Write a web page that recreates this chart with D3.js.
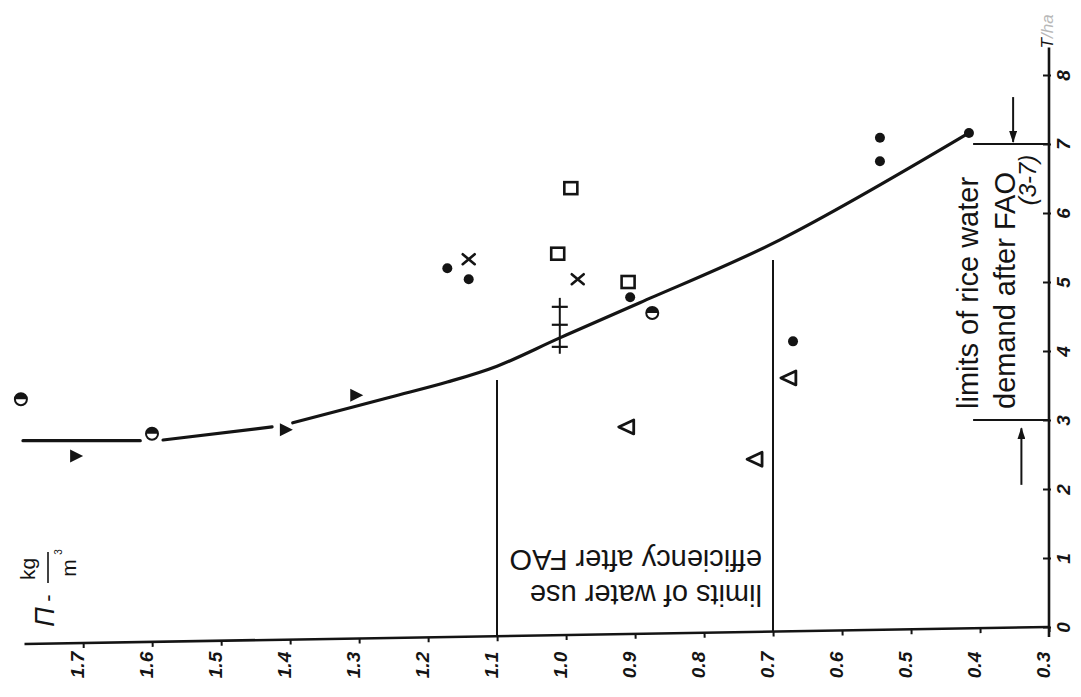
<!DOCTYPE html>
<html>
<head>
<meta charset="utf-8">
<script src="https://cdn.jsdelivr.net/npm/d3@7"></script>
<style>
  body { margin: 0; background: #fff; }
  svg { display: block; }
</style>
</head>
<body>
<svg id="chart" width="1081" height="697"></svg>
<script>
// Rice: water-use efficiency (kg/m3, horizontal) against yield (vertical, right-hand axis)
const effTicks = [1.7, 1.6, 1.5, 1.4, 1.3, 1.2, 1.1, 1.0, 0.9, 0.8, 0.7, 0.6, 0.5, 0.4, 0.3];
const effTickLabels = ["1.7", "1.6", "1.5", "1.4", "1.3", "1.2", "1.1", "1.0", "0.9", "0.8", "0.7", "0.6", "0.5", "0.4", "0.3"];
const yieldTicks = [0, 1, 2, 3, 4, 5, 6, 7, 8];
const yieldTickLabels = ["0", "1", "2", "3", "4", "5", "6", "7", "8"];
const effAxisStart = 1.785;
const yieldAxisEnd = 8.4;

// hand-fitted curve; null marks a break in the drawn line
const curveEff   = [1.787, 1.617, null, 1.584, 1.426, null, 1.396, 1.255, 1.172, 1.100, 1.009, 0.893, 0.690, 0.416];
const curveYield = [2.70,  2.70,  null, 2.71,  2.90,  null, 2.96,  3.33,  3.55,  3.78,  4.19,  4.70,  5.61,  7.16];

// observations, one pair of arrays per symbol
const dotEff   = [1.172, 1.141, 0.907, 0.671, 0.545, 0.545, 0.416];
const dotYield = [5.20,  5.04,  4.78,  4.14,  7.09,  6.75,  7.16];
const halfEff   = [1.79, 1.60, 0.875];
const halfYield = [3.30, 2.80, 4.55];
const solidTriEff   = [1.71, 1.406, 1.304];
const solidTriYield = [2.48, 2.86,  3.36];
const openTriEff   = [0.912, 0.726, 0.677];
const openTriYield = [2.90,  2.43,  3.61];
const squareEff   = [1.012, 0.993, 0.910];
const squareYield = [5.41,  6.36,  5.00];
const crossEff   = [1.141, 0.983];
const crossYield = [5.33,  5.04];
const plusEff   = [1.009, 1.009, 1.009];
const plusYield = [4.64,  4.38,  4.06];

// FAO limits
const effLimits = [1.1, 0.7];
const effLimitTop = [3.58, 5.32];
const yieldLimits = [3, 7];
const yieldLimitFrom = 0.41;
const arrowEff  = [0.352, 0.340];
const arrowFrom = [7.68, 2.06];
const arrowTo   = [7.03, 2.88];

const ink = "#141414";
const sans = "'Liberation Sans', Arial, sans-serif";
const svg = d3.select("#chart");
const x = d3.scaleLinear().domain([1.7, 0.3]).range([83, 1049]);
const y = d3.scaleLinear().domain([0, 8]).range([627, 75]);
const tiltDeg = -0.95;                       // the baseline is drawn slightly askew
const tiltSlope = Math.tan(-tiltDeg * Math.PI / 180);
const baseY = px => y(0) + tiltSlope * (x(0.3) - px);

const defs = svg.append("defs");
defs.append("marker")
  .attr("id", "head").attr("viewBox", "0 0 12 8").attr("refX", 11).attr("refY", 4)
  .attr("markerWidth", 12).attr("markerHeight", 8).attr("markerUnits", "userSpaceOnUse")
  .attr("orient", "auto")
  .append("path").attr("d", "M0,0 L12,4 L0,8 Z").attr("fill", ink);

// ---- horizontal axis (efficiency) ----
const gx = svg.append("g")
  .attr("transform", `translate(0,${y(0)}) rotate(${tiltDeg},${x(0.3)},0)`);
gx.call(d3.axisBottom(x).tickValues(effTicks).tickSize(5).tickFormat(""));
gx.select(".domain").remove();
gx.append("line")
  .attr("x1", x(effAxisStart)).attr("x2", x(0.3)).attr("y1", 0).attr("y2", 0)
  .attr("stroke", ink).attr("stroke-width", 2.6);
gx.selectAll(".tick line").attr("stroke", ink).attr("stroke-width", 2);

// tick labels sit on a level line below the askew baseline
svg.append("g").selectAll("text").data(effTicks).join("text")
  .attr("transform", d => `translate(${x(d) - 6},665) rotate(-90)`)
  .attr("dy", "0.35em").attr("text-anchor", "middle").attr("fill", ink)
  .style("font-family", sans).style("font-style", "italic")
  .style("font-weight", "bold").style("font-size", "19px")
  .text((d, i) => effTickLabels[i]);

// ---- right-hand axis (yield) ----
const gy = svg.append("g").attr("transform", `translate(${x(0.3)},0)`);
gy.call(d3.axisRight(y).tickValues(yieldTicks).tickSizeInner(-6).tickSizeOuter(0)
  .tickFormat((d, i) => yieldTickLabels[i]));
gy.select(".domain").remove();
gy.append("line")
  .attr("x1", 0).attr("x2", 0).attr("y1", y(0) + 10).attr("y2", y(yieldAxisEnd))
  .attr("stroke", ink).attr("stroke-width", 2.6);
gy.selectAll(".tick line").attr("x1", 2).attr("stroke", ink).attr("stroke-width", 2);
gy.selectAll(".tick text")
  .attr("x", 0).attr("y", 0).attr("dy", "0.35em")
  .attr("transform", "translate(14,0) rotate(-90)")
  .attr("text-anchor", "middle")
  .attr("fill", ink)
  .style("font-family", sans)
  .style("font-style", "italic").style("font-weight", "bold").style("font-size", "19px");

// axis title at the top of the yield axis
const tTitle = svg.append("text")
  .attr("transform", `translate(${x(0.3) - 2},${y(yieldAxisEnd) - 16}) rotate(-90)`)
  .attr("text-anchor", "middle").attr("dy", "0.35em")
  .style("font-family", sans)
  .style("font-style", "italic").style("font-size", "17px");
tTitle.append("tspan").attr("fill", ink).text("T");
tTitle.append("tspan").attr("fill", "#b8b8b8").text("/ha");

// efficiency title: Π - kg/m³
const lab = svg.append("g").attr("transform", "translate(48,600) rotate(-90)")
  .style("font-family", sans).attr("fill", ink);
lab.append("text").attr("x", -17).attr("y", -3).attr("dy", "0.35em").attr("text-anchor", "middle")
  .style("font-style", "italic").style("font-size", "27px").text("Π");
lab.append("text").attr("x", 2).attr("y", -1).attr("dy", "0.35em").attr("text-anchor", "middle")
  .style("font-size", "22px").text("-");
lab.append("line").attr("x1", 17).attr("x2", 48).attr("y1", 0).attr("y2", 0)
  .attr("stroke", ink).attr("stroke-width", 1.6);
lab.append("text").attr("x", 31).attr("y", -20).attr("dy", "0.35em").attr("text-anchor", "middle")
  .style("font-size", "21px").text("kg");
lab.append("text").attr("x", 32).attr("y", 21).attr("dy", "0.35em").attr("text-anchor", "middle")
  .style("font-size", "21px").text("m");
lab.append("text").attr("x", 48).attr("y", 10).attr("dy", "0.35em").attr("text-anchor", "middle")
  .style("font-size", "10px").text("3");

// ---- FAO limit lines ----
svg.selectAll(".eff-limit").data(effLimits).join("line")
  .attr("class", "eff-limit")
  .attr("x1", d => x(d)).attr("x2", d => x(d))
  .attr("y1", d => baseY(x(d))).attr("y2", (d, i) => y(effLimitTop[i]))
  .attr("stroke", ink).attr("stroke-width", 2);

svg.selectAll(".yield-limit").data(yieldLimits).join("line")
  .attr("class", "yield-limit")
  .attr("x1", x(yieldLimitFrom)).attr("x2", x(0.3))
  .attr("y1", d => y(d)).attr("y2", d => y(d))
  .attr("stroke", ink).attr("stroke-width", 2);

svg.selectAll(".limit-arrow").data(arrowEff).join("line")
  .attr("class", "limit-arrow")
  .attr("x1", d => x(d)).attr("x2", d => x(d))
  .attr("y1", (d, i) => y(arrowFrom[i])).attr("y2", (d, i) => y(arrowTo[i]))
  .attr("stroke", ink).attr("stroke-width", 2)
  .attr("marker-end", "url(#head)");

svg.append("text").attr("transform", "translate(978,409) rotate(-90)")
  .style("font-family", sans).style("font-size", "29px").attr("fill", ink)
  .text("limits of rice water");
svg.append("text").attr("transform", "translate(1015,409) rotate(-90)")
  .style("font-family", sans).style("font-size", "29px").attr("fill", ink)
  .text("demand after FAO");
svg.append("text").attr("transform", "translate(1036,180) rotate(-90)")
  .attr("text-anchor", "middle")
  .style("font-family", sans).style("font-style", "italic").style("font-size", "24px")
  .attr("fill", ink)
  .text("(3-7)");

svg.append("text").attr("transform", "translate(762,585) rotate(180)")
  .style("font-family", sans).style("font-size", "29px").attr("fill", ink)
  .text("limits of water use");
svg.append("text").attr("transform", "translate(762,550) rotate(180)")
  .style("font-family", sans).style("font-size", "29px").attr("fill", ink)
  .text("efficiency after FAO");

// ---- fitted curve ----
const curvePts = curveEff.map((e, i) => ({ e, t: curveYield[i] }));
svg.append("path")
  .datum(curvePts)
  .attr("d", d3.line().defined(d => d.e !== null)
    .x(d => x(d.e)).y(d => y(d.t)).curve(d3.curveCatmullRom.alpha(0.5)))
  .attr("fill", "none").attr("stroke", ink).attr("stroke-width", 3.2)
  .attr("stroke-linecap", "round");

// ---- observations ----
const zip = (a, b) => a.map((v, i) => ({ e: v, t: b[i] }));
const place = d => `translate(${x(d.e)},${y(d.t)})`;

// vertical bar joining the plus marks
svg.append("line")
  .attr("x1", x(plusEff[0])).attr("x2", x(plusEff[0]))
  .attr("y1", y(d3.max(plusYield) + 0.13)).attr("y2", y(d3.min(plusYield) - 0.1))
  .attr("stroke", ink).attr("stroke-width", 2);
svg.selectAll(".plus").data(zip(plusEff, plusYield)).join("path")
  .attr("class", "plus").attr("transform", place)
  .attr("d", "M-8,0 L8,0").attr("stroke", ink).attr("stroke-width", 2.2);

svg.selectAll(".dot").data(zip(dotEff, dotYield)).join("circle")
  .attr("class", "dot").attr("transform", place).attr("r", 5).attr("fill", ink);

const half = svg.selectAll(".half").data(zip(halfEff, halfYield)).join("g")
  .attr("class", "half").attr("transform", place);
half.append("circle").attr("r", 6).attr("fill", "#fff").attr("stroke", ink).attr("stroke-width", 2);
half.append("path").attr("d", "M-6,0 A6,6 0 0 1 6,0 Z").attr("fill", ink);

svg.selectAll(".tri-solid").data(zip(solidTriEff, solidTriYield)).join("path")
  .attr("class", "tri-solid").attr("transform", place)
  .attr("d", "M-6,-6.5 L7,0 L-6,6.5 Z").attr("fill", ink);

svg.selectAll(".tri-open").data(zip(openTriEff, openTriYield)).join("path")
  .attr("class", "tri-open").attr("transform", place)
  .attr("d", "M-8,0 L7,-7 L7,7 Z").attr("fill", "#fff")
  .attr("stroke", ink).attr("stroke-width", 2.8).attr("stroke-linejoin", "round");

svg.selectAll(".square").data(zip(squareEff, squareYield)).join("rect")
  .attr("class", "square").attr("transform", place)
  .attr("x", -6.5).attr("y", -6).attr("width", 13).attr("height", 12)
  .attr("fill", "#fff").attr("stroke", ink).attr("stroke-width", 2.6);

svg.selectAll(".cross").data(zip(crossEff, crossYield)).join("path")
  .attr("class", "cross").attr("transform", place)
  .attr("d", "M-6,-5 L6,5 M-6,5 L6,-5").attr("stroke", ink).attr("stroke-width", 2.6)
  .attr("stroke-linecap", "round");
</script>
</body>
</html>
